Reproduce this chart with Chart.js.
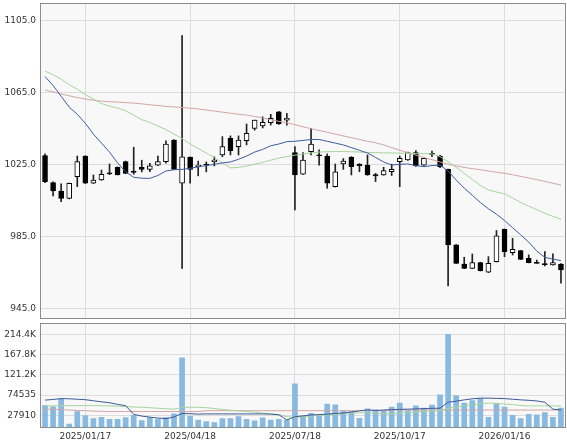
<!DOCTYPE html>
<html lang="ja">
<head>
<meta charset="UTF-8">
<title>週足チャート</title>
<script src="https://cdn.jsdelivr.net/npm/chart.js@4.4.0/dist/chart.umd.min.js"></script>
<style>
  *{margin:0;padding:0;box-sizing:border-box}
  body{background:#fff;width:567px;height:442px;overflow:hidden;position:relative}
  canvas{position:absolute;left:0}
  #price{top:0}
  #vol{top:320px}
</style>
</head>
<body>
<canvas id="price" width="567" height="322"></canvas>
<canvas id="vol" width="567" height="122"></canvas>
<script>
/* weekly categories */
const weeks=['2024/12/13','2024/12/20','2024/12/27','2025/01/03','2025/01/10','2025/01/17','2025/01/24','2025/01/31','2025/02/07','2025/02/14','2025/02/21','2025/02/28','2025/03/07','2025/03/14','2025/03/21','2025/03/28','2025/04/04','2025/04/11','2025/04/18','2025/04/25','2025/05/02','2025/05/09','2025/05/16','2025/05/23','2025/05/30','2025/06/06','2025/06/13','2025/06/20','2025/06/27','2025/07/04','2025/07/11','2025/07/18','2025/07/25','2025/08/01','2025/08/08','2025/08/15','2025/08/22','2025/08/29','2025/09/05','2025/09/12','2025/09/19','2025/09/26','2025/10/03','2025/10/10','2025/10/17','2025/10/24','2025/10/31','2025/11/07','2025/11/14','2025/11/21','2025/11/28','2025/12/05','2025/12/12','2025/12/19','2025/12/26','2026/01/02','2026/01/09','2026/01/16','2026/01/23','2026/01/30','2026/02/06','2026/02/13','2026/02/20','2026/02/27','2026/03/06'];
const tickLabels=['2025/01/17','2025/04/18','2025/07/18','2025/10/17','2026/01/16'];
const priceTicks=[945,985,1025,1065,1105];
const volTicks=[27910,74535,121160,167785,214410];

/* OHLC */
const open =[1030,1015,1010.4,1006.3,1018.3,1029.8,1014.7,1016.5,1020.2,1023.6,1026.7,1021.5,1023.5,1022.4,1024.8,1026.7,1038.7,1014.7,1029.1,1023.9,1025,1026.7,1030.4,1039.7,1035,1038.3,1045.2,1046.5,1048.3,1054.4,1049.8,1031.7,1019.8,1032.2,1030.2,1029.8,1012.8,1025.4,1029.1,1025.4,1024.8,1018.8,1019.3,1021.1,1026.7,1027.6,1031.7,1024.8,1031,1029.8,1022.4,980.4,969.8,967.4,970.6,965.2,971.1,989.1,976.1,977.2,973,970.5,969.8,969.3,969.8];
const high =[1031,1015.5,1014.4,1014.8,1029.8,1030,1019.3,1022,1025.4,1023.8,1027,1034.7,1027.5,1025.8,1029.8,1038.3,1038.9,1096.7,1029.3,1027,1026.5,1029.4,1040.6,1041,1041,1047.6,1049.8,1051.6,1053,1054.6,1053.6,1035,1031.7,1045.2,1033.2,1031,1025.4,1028.4,1029.5,1025.6,1030.4,1020.2,1023.6,1025.3,1029.8,1032,1032.8,1028.7,1032.5,1030.2,1022.6,980.6,973.6,975.4,970.8,973.9,988.4,989.3,984.1,977.4,974.9,972,976.7,975.4,970];
const low  =[1015,1007.6,1004.4,1006,1012.8,1014.5,1014.5,1016.3,1019.5,1019.3,1020,1019.7,1021,1021.1,1024.5,1025.8,1022.2,967.4,1014.7,1018.8,1021,1024.3,1029.4,1030.4,1030.4,1036,1044.2,1045.4,1047,1047.4,1047,999.8,1019.6,1030.4,1024.8,1011.9,1012.6,1022.4,1019.3,1021.1,1019.1,1015.6,1019.1,1019,1012.8,1027.4,1024.1,1024.6,1029.4,1023.4,957.6,970,967.2,967.2,965.9,965,970.9,973.9,974.8,972.2,970.4,970.2,968.7,969.1,959.1];
const close=[1015.6,1010.4,1006.3,1014.7,1026.7,1014.7,1016.5,1019.7,1020.6,1019.3,1020.2,1020.7,1022.4,1024.3,1026.7,1036.5,1022.4,1029.4,1022.4,1024.8,1025.6,1027.6,1035,1032.8,1038.7,1042.4,1049.8,1048.5,1050.8,1047.6,1050.8,1019.3,1027.6,1036.5,1030.8,1014.7,1021.1,1027,1023.9,1024.4,1019.3,1019.5,1021.7,1022.4,1028.5,1031.7,1024.3,1028.5,1031.5,1023.9,980.4,970.2,967.4,970.6,966.1,970.2,985.4,976.7,978,972.4,970.6,970.2,970.3,970.6,966.5];

/* price moving averages */
const ma13=[1074,1069,1063,1057,1053,1048,1042,1037,1032,1026,1021,1018,1017.5,1017.4,1019,1021.5,1022.2,1022.4,1023,1023.8,1024.5,1025.2,1026,1026.5,1028,1029.8,1032,1033.5,1035.5,1036.5,1037.8,1038,1038.5,1039,1039,1038,1037,1036,1034.5,1033,1031.5,1029,1026.5,1024.8,1025.2,1025.4,1024.5,1023.9,1024.5,1024.8,1021.5,1016.5,1012,1008,1004,1000.5,997.5,994,990,986,982,977,973.5,972.5,971.7];
const ma26=[1077,1075,1072.5,1069.5,1067,1064,1061.5,1059,1057.5,1056.5,1055,1052.5,1050,1048.5,1046.5,1044.5,1042,1039.5,1036.5,1034,1031.5,1029,1026,1023.2,1023.5,1024.3,1025.3,1026.3,1027.5,1028.7,1029.5,1030.3,1031,1031.5,1032,1032.2,1032.3,1032.3,1032.2,1032,1031.8,1031.7,1031.6,1031.5,1031.4,1031.3,1031.2,1031.1,1031,1029.5,1026.7,1023.5,1020.2,1016.8,1013.5,1011,1009.8,1008.8,1006.5,1004,1002,1000,998,996.3,994.7];
const ma52=[1066.5,1065.5,1064.3,1063.3,1062.3,1061.5,1060.8,1060.3,1060,1059.8,1059.5,1059.2,1058.8,1058.3,1057.9,1057.4,1057.1,1056.8,1056.4,1056,1055.4,1054.8,1054.2,1053.6,1053,1052.6,1051.8,1051,1050,1049.1,1048.3,1047.2,1046.1,1045,1044,1043,1042,1041,1040,1039,1038,1037.2,1036,1034.5,1033,1031.7,1030.3,1029,1027.8,1026.5,1025.3,1024.3,1023.5,1022.8,1022.2,1021.5,1020.8,1020.2,1019.4,1018.5,1017.6,1016.7,1015.7,1014.7,1013.7];

/* volume */
const volume=[50350,47300,66000,7700,36400,27000,20000,23300,18600,18600,22400,28000,15400,22400,18600,22400,31000,160800,25600,17000,13000,10700,20000,20000,24700,18600,14700,21700,17000,18600,17000,100900,24700,32600,26300,53600,52000,38000,36400,21000,42700,40300,38700,46600,55900,38700,49600,44300,51300,75300,215200,73700,55900,62000,66700,23300,54300,46600,28000,20000,30300,28700,34000,23300,44300];
const volMa13=[63000,64500,66500,66000,65000,64000,61500,59000,57000,53000,50000,30000,26000,23500,21500,20000,24000,32000,31500,30500,31000,31000,31000,31000,31000,31000,31000,31000,30500,29000,17000,24500,26500,28500,29500,30500,32000,33000,35500,38000,40300,39000,40000,41000,41500,42000,42500,43300,44000,44300,58000,60500,63500,66000,67600,67500,67000,66500,65000,63600,62500,61000,58000,42000,40300];
const volMa26=[49600,49800,50000,50200,50300,50300,50200,50000,49500,49000,48000,47000,46500,45500,44000,43000,42000,46000,46600,46300,45500,43500,41500,39500,38000,36500,35000,33000,31000,29500,24500,23300,24500,26000,27500,28700,30000,31500,33000,33500,34000,32500,31500,31000,32500,34000,35500,37000,38000,39000,44000,47000,50000,52000,54000,55900,55500,54000,52500,50500,49600,49600,49600,49600,49600];
const volMa52=[42000,41500,41000,40000,39000,38500,37500,37000,36500,36500,36500,36500,36500,36500,36500,36500,36500,36500,36500,36500,38500,38500,38500,38500,38500,38500,38500,38500,38500,38500,38500,38500,38500,38500,38500,38500,38500,38500,38500,38500,38500,38500,38500,40000,40000,40000,40000,40000,40000,40000,40000,40000,40000,40000,40000,40000,40000,40000,40000,40000,40000,40000,40000,40000,40000];

const FONT={family:'DejaVu Sans',size:9};
const TXT='#333';
const GRID='#dddddd';

// plot background + frame
const frame={id:'frame',
  beforeDraw(c){const a=c.chartArea,x=c.ctx;x.save();x.fillStyle='#f8f8f8';x.fillRect(a.left,a.top,a.right-a.left,a.bottom-a.top);x.restore()},
  afterDraw(c){const a=c.chartArea,x=c.ctx;x.save();x.strokeStyle='#8c8c8c';x.lineWidth=1;
    x.strokeRect(Math.round(a.left)-0.5,Math.round(a.top)-0.5,Math.round(a.right-a.left)+1,Math.round(a.bottom-a.top)+1);x.restore()}};

const xScale=showLabels=>({
  type:'category',offset:true,
  grid:{offset:false,drawTicks:false,color:ctx=>tickLabels.includes(weeks[ctx.index])?GRID:'rgba(0,0,0,0)'},
  border:{display:false},
  ticks:{display:showLabels,autoSkip:false,maxRotation:0,minRotation:0,padding:4,color:TXT,font:FONT,
    callback:(v,i)=>tickLabels.includes(weeks[i])?weeks[i]:''},
  afterFit:s=>{s.height=showLabels?14.7:0;s.paddingLeft=0;s.paddingRight=0}
});

// fixed-width y axis without label overhang padding
const yFit=s=>{s.width=41;s.paddingTop=0;s.paddingBottom=0};

const line=(data,color)=>({type:'line',data,borderColor:color,borderWidth:1,pointRadius:0,fill:false,tension:0});

const isDown=i=>close[i]<open[i]||Math.abs(close[i]-open[i])<0.8;
const body=open.map((o,i)=>{const c=close[i];return Math.abs(c-o)<0.6?[o-0.3,o+0.3]:[o,c]});

new Chart(document.getElementById('price'),{
  type:'bar',
  data:{labels:weeks,datasets:[
    line(ma13,'#3d5e9e'),
    line(ma26,'#a8d49e'),
    line(ma52,'#d3a6a6'),
    {type:'bar',data:body,grouped:false,barThickness:5,borderWidth:1,borderColor:'#000',borderSkipped:false,
      backgroundColor:ctx=>isDown(ctx.dataIndex)?'#000':'#fff'},
    {type:'bar',data:low.map((l,i)=>[l,high[i]]),grouped:false,barThickness:1,borderWidth:0,backgroundColor:'#222'}
  ]},
  options:{responsive:false,animation:false,
    layout:{padding:{left:0,right:2,top:4,bottom:4}},
    plugins:{legend:{display:false},tooltip:{enabled:false}},
    scales:{
      x:xScale(false),
      y:{min:939.8,max:1114.3,
        afterBuildTicks:s=>{s.ticks=priceTicks.map(v=>({value:v}))},
        grid:{color:GRID,drawTicks:false},border:{display:false},
        ticks:{padding:5,color:TXT,font:FONT,callback:v=>Number(v).toFixed(1)},
        afterFit:yFit}
    }},
  plugins:[frame]
});

const fmtVol=v=>v>=100000?(v/1000).toFixed(1)+'K':String(v);

new Chart(document.getElementById('vol'),{
  type:'bar',
  data:{labels:weeks,datasets:[
    line(volMa13,'#3b5a97'),
    line(volMa26,'#a8d49e'),
    line(volMa52,'#d3a6a6'),
    {type:'bar',data:volume,barThickness:5,backgroundColor:'#88b9e0',borderWidth:0}
  ]},
  options:{responsive:false,animation:false,
    layout:{padding:{left:0,right:2,top:4,bottom:0}},
    plugins:{legend:{display:false},tooltip:{enabled:false}},
    scales:{
      x:xScale(true),
      y:{min:0,max:239300,
        afterBuildTicks:s=>{s.ticks=volTicks.map(v=>({value:v}))},
        grid:{color:GRID,drawTicks:false},border:{display:false},
        ticks:{padding:5,color:TXT,font:FONT,callback:v=>fmtVol(v)},
        afterFit:yFit}
    }},
  plugins:[frame]
});
</script>
</body>
</html>
